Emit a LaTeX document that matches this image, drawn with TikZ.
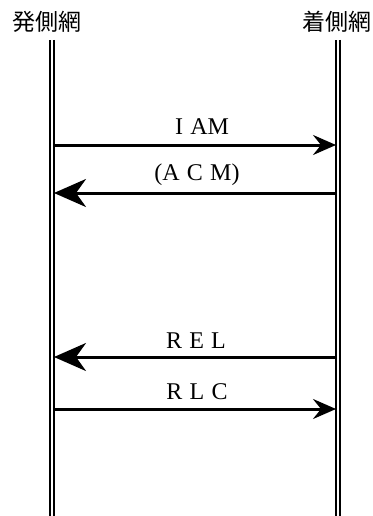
\documentclass[tikz,border=0pt]{standalone}
\usepackage{fontspec}
\setmainfont{Liberation Serif}
\newfontfamily\jpfont{Noto Sans CJK JP}
\usetikzlibrary{arrows.meta}
\tikzset{
  lifeline/.style={draw=black, line width=2pt, double=white, double distance=2pt},
  msgright/.style={line width=3pt, -{Stealth[length=23pt,width=20pt,inset=8pt]}},
  msgleft/.style={line width=3pt, -{Stealth[length=32pt,width=28pt,inset=10pt]}},
  header/.style={font=\jpfont\fontsize{23}{23}\selectfont, inner sep=0pt},
  msglabel/.style={font=\fontsize{24}{24}\selectfont, inner sep=0pt}
}
\newcommand{\lsp}{\hspace{0.3em}}
\begin{document}
\begin{tikzpicture}[x=1pt,y=-1pt]
\useasboundingbox (0,0) rectangle (372,516);
\node[header] (hl) at (47,22) {発側網};
\node[header] (hr) at (337,22) {着側網};
\coordinate (lt) at (51.5,40);
\coordinate (lb) at (51.5,516);
\coordinate (rt) at (338,40);
\coordinate (rb) at (338,516);
\draw[lifeline] (lt) -- (lb);
\draw[lifeline] (rt) -- (rb);
% message endpoints
\coordinate (l1) at (54,145); \coordinate (r1) at (336,145);
\coordinate (l2) at (54,193); \coordinate (r2) at (336,193);
\coordinate (l3) at (54,357); \coordinate (r3) at (336,357);
\coordinate (l4) at (54,409); \coordinate (r4) at (336,409);
\draw[msgright] (l1) -- (r1);
\draw[msgleft] (r2) -- (l2);
\draw[msgleft] (r3) -- (l3);
\draw[msgright] (l4) -- (r4);
\node[msglabel] (t1) at (202,127) {I\lsp AM};
\node[msglabel] (t2) at (197,175) {(A\lsp C\lsp M)};
\node[msglabel] (t3) at (196,341) {R\lsp E\lsp L};
\node[msglabel] (t4) at (197,392) {R\lsp L\lsp C};
\end{tikzpicture}
\end{document}
